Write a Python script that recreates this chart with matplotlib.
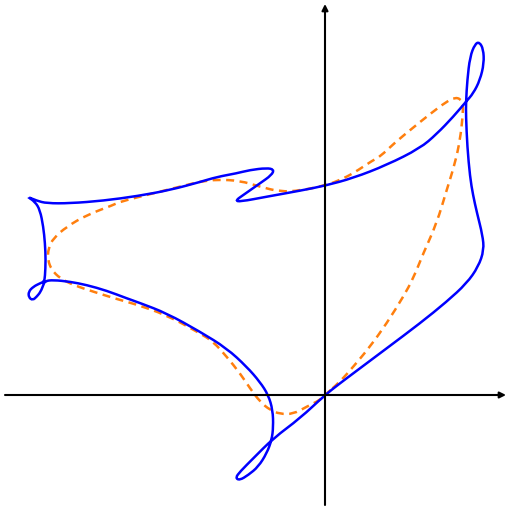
import matplotlib
matplotlib.use("Agg")
import matplotlib.pyplot as plt
from matplotlib.path import Path
from matplotlib.patches import PathPatch

# blue closed curve (origin = axis crossing)
blue_pts = [
    (0, 0), (0.15, 0.117), (0.283, 0.217), (0.617, 0.467), (0.95, 0.717),
    (1.217, 0.933), (1.417, 1.117), (1.533, 1.283), (1.59, 1.45), (1.575, 1.60),
    (1.52, 1.82), (1.48, 2.00), (1.45, 2.183), (1.423, 2.483), (1.41, 2.783),
    (1.41, 2.933), (1.423, 3.15), (1.45, 3.383), (1.50, 3.51), (1.543, 3.53),
    (1.583, 3.46), (1.59, 3.317), (1.55, 3.15), (1.483, 3.017), (1.41, 2.933),
    (1.283, 2.783), (1.117, 2.61), (0.95, 2.467), (0.617, 2.30), (0.283, 2.17),
    (0, 2.093), (-0.25, 2.043), (-0.583, 1.983), (-0.85, 1.933), (-0.895, 1.945),
    (-0.817, 2.00), (-0.65, 2.117), (-0.533, 2.20), (-0.51, 2.255), (-0.583, 2.27),
    (-0.75, 2.25), (-0.883, 2.217), (-1.083, 2.18), (-1.25, 2.13), (-1.55, 2.05),
    (-1.87, 1.99), (-2.217, 1.943), (-2.55, 1.917), (-2.783, 1.917), (-2.883, 1.943),
    (-2.98, 1.985), (-2.90, 1.933), (-2.85, 1.85), (-2.817, 1.683), (-2.80, 1.517),
    (-2.793, 1.35), (-2.80, 1.183), (-2.81, 1.133), (-2.85, 1.117), (-2.917, 1.083),
    (-2.965, 1.033), (-2.962, 0.975), (-2.923, 0.948), (-2.883, 0.983), (-2.843, 1.033),
    (-2.817, 1.10), (-2.80, 1.14), (-2.717, 1.15), (-2.55, 1.133), (-2.383, 1.10),
    (-2.183, 1.043), (-1.983, 0.967), (-1.85, 0.92), (-1.583, 0.817), (-1.25, 0.633),
    (-0.983, 0.467), (-0.783, 0.283), (-0.65, 0.13), (-0.567, 0), (-0.523, -0.15),
    (-0.517, -0.317), (-0.533, -0.45), (-0.583, -0.583), (-0.667, -0.717), (-0.767, -0.80),
    (-0.855, -0.853), (-0.895, -0.828), (-0.85, -0.767), (-0.717, -0.633), (-0.517, -0.433),
    (-0.25, -0.233), (0, 0),
]

# orange dashed closed curve
orange_pts = [
    (0, 0), (0.15, 0.133), (0.283, 0.283), (0.45, 0.483), (0.617, 0.717),
    (0.783, 0.983), (0.883, 1.167), (0.983, 1.417), (1.117, 1.717), (1.217, 2.05),
    (1.30, 2.317), (1.35, 2.55), (1.377, 2.783), (1.38, 2.91), (1.355, 2.96),
    (1.30, 2.975), (1.217, 2.935), (1.05, 2.81), (0.883, 2.675), (0.70, 2.525),
    (0.55, 2.383), (0.483, 2.35), (0.283, 2.217), (0.15, 2.15), (0.017, 2.10),
    (-0.25, 2.043), (-0.45, 2.033), (-0.65, 2.083), (-0.85, 2.143), (-1.083, 2.155),
    (-1.25, 2.133), (-1.383, 2.10), (-1.717, 2.017), (-2.05, 1.933), (-2.117, 1.90),
    (-2.383, 1.80), (-2.583, 1.683), (-2.717, 1.567), (-2.767, 1.467), (-2.772, 1.35),
    (-2.733, 1.25), (-2.65, 1.167), (-2.517, 1.10), (-2.317, 1.033), (-2.05, 0.95),
    (-1.917, 0.915), (-1.583, 0.80), (-1.25, 0.617), (-1.117, 0.533), (-0.983, 0.383),
    (-0.85, 0.217), (-0.75, 0.067), (-0.65, -0.067), (-0.55, -0.15), (-0.45, -0.19),
    (-0.317, -0.19), (-0.183, -0.117), (-0.05, -0.05), (0, 0),
]


def smooth_path(pts):
    # quadratic bezier through the midpoints, traced points used as control points
    n = len(pts) - 1
    mid = lambda a, b: ((a[0] + b[0]) / 2, (a[1] + b[1]) / 2)
    verts = [mid(pts[0], pts[1])]
    codes = [Path.MOVETO]
    for i in range(1, n + 1):
        p = pts[i]
        q = pts[i + 1] if i < n else pts[1]
        verts += [p, mid(p, q)]
        codes += [Path.CURVE3, Path.CURVE3]
    return Path(verts, codes)


fig = plt.figure(figsize=(5.12, 5.12), dpi=100)
ax = fig.add_axes([0, 0, 1, 1])
ax.set_xlim(-3.25, 1.87)
ax.set_ylim(-1.17, 3.95)
ax.axis('off')

# axes with arrow heads
arrow = dict(arrowstyle='-|>', lw=1.5, color='black', mutation_scale=9, shrinkA=0, shrinkB=0)
ax.annotate('', xy=(1.81, 0), xytext=(-3.2, 0), arrowprops=arrow)
ax.annotate('', xy=(0, 3.91), xytext=(0, -1.1), arrowprops=arrow)

ax.add_patch(PathPatch(smooth_path(orange_pts), fill=False, edgecolor='#ff7f0e',
                       lw=1.8, ls=(0, (3.2, 2.2))))
ax.add_patch(PathPatch(smooth_path(blue_pts), fill=False, edgecolor='blue', lw=1.8))

fig.savefig('out.png', dpi=100)
